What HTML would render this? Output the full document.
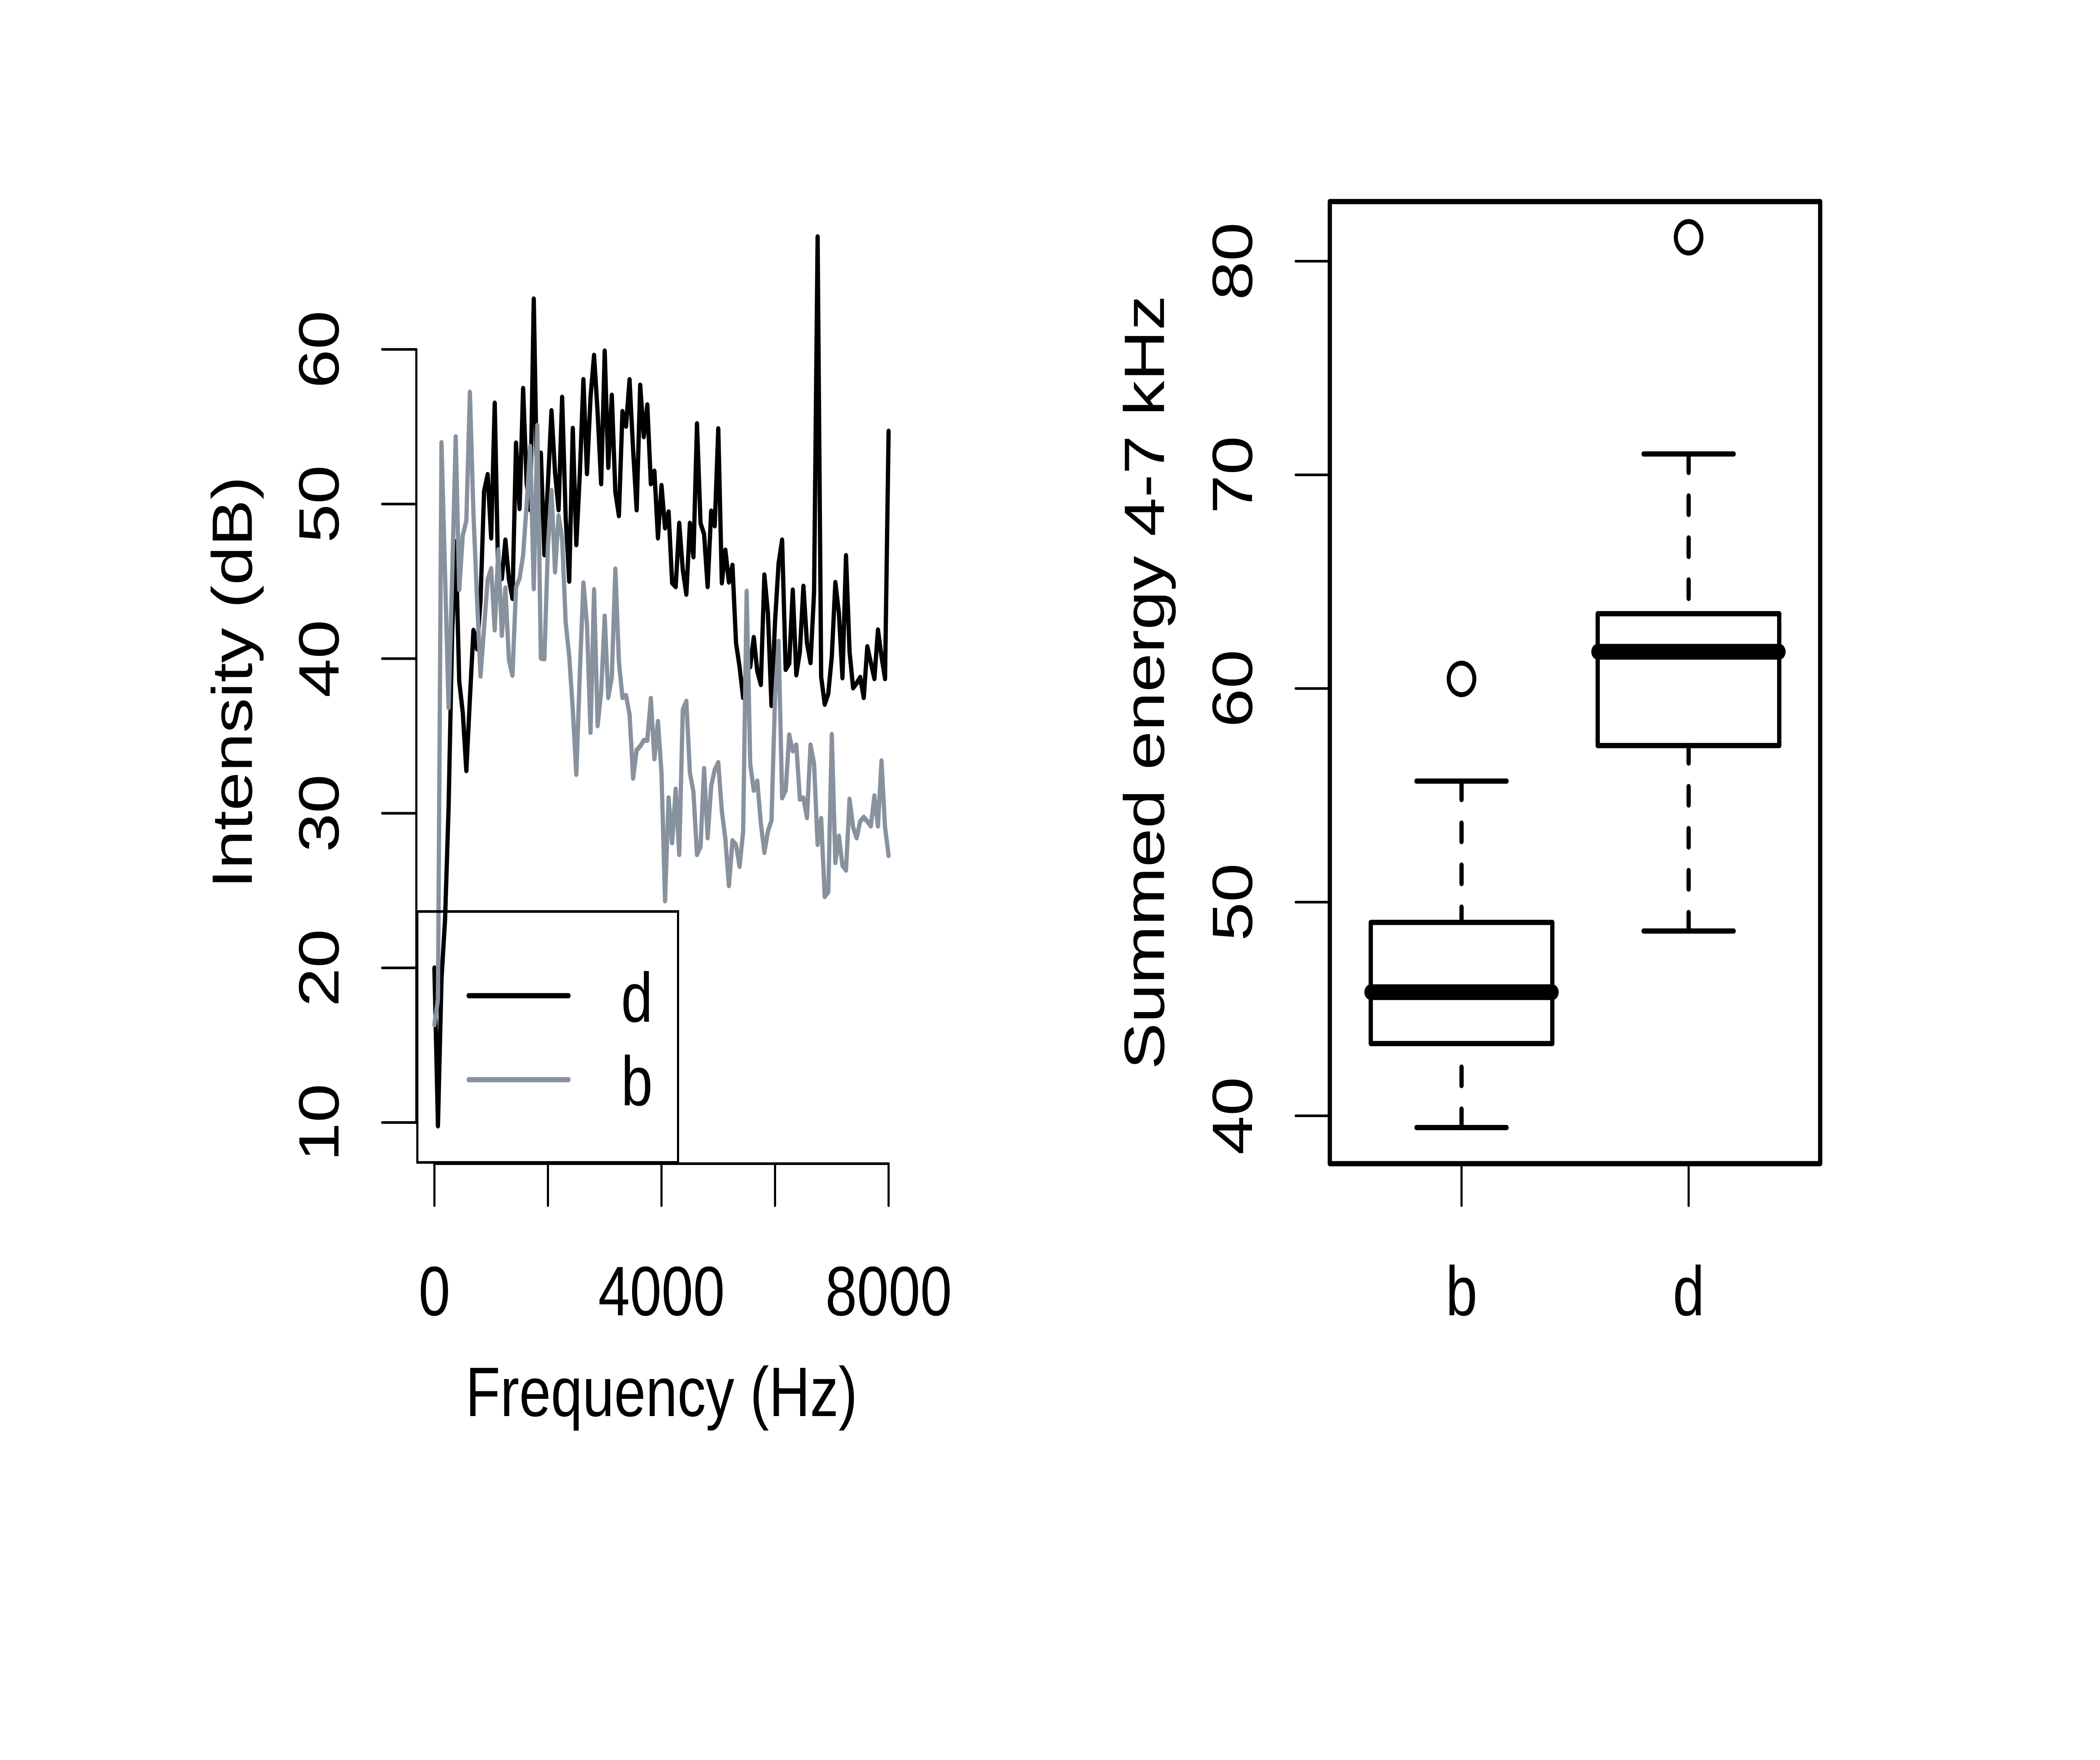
<!DOCTYPE html>
<html>
<head>
<meta charset="utf-8">
<style>
  html, body { margin: 0; padding: 0; background: #ffffff; overflow: hidden; width: 100%; height: 100%; }
  svg { display: block; position: absolute; left: 0; top: 0; width: 100vw; height: 100vh; }
  text { font-family: "Liberation Sans", Arial, sans-serif; font-size: 166.7px; fill: #000; }
</style>
</head>
<body>
<svg xmlns="http://www.w3.org/2000/svg" viewBox="0 0 6154 4191" preserveAspectRatio="none">
  <rect x="0" y="0" width="6154" height="4191" fill="#ffffff"/>

  <!-- ================= LEFT PANEL ================= -->
  <!-- series d (black) -->
  <polyline fill="none" stroke="#000000" stroke-width="12.5" stroke-linejoin="round" stroke-linecap="round"
    points="1273.0,2305 1283.4,2681 1293.8,2331 1304.2,2190 1314.6,1922 1325.0,1508 1335.4,1290 1345.8,1623 1356.2,1697 1366.6,1835 1377.0,1664 1387.4,1501 1397.8,1545 1408.2,1430 1418.6,1170 1429.0,1130 1439.4,1281 1449.8,960 1460.2,1380 1470.6,1378 1481.0,1286 1491.4,1380 1501.8,1425 1512.2,1055 1522.6,1211 1533.0,925 1543.4,1152 1553.8,1214 1564.2,712 1574.6,1196 1585.0,1079 1595.3,1321 1605.7,1152 1616.1,978 1626.5,1125 1636.9,1214 1647.3,946 1657.7,1232 1668.1,1384 1678.5,1020 1688.9,1297 1699.3,1125 1709.7,904 1720.1,1128 1730.5,946 1740.9,846 1751.3,982 1761.7,1152 1772.1,836 1782.5,1113 1792.9,941 1803.3,1172 1813.7,1228 1824.1,980 1834.5,1015 1844.9,904 1855.3,1071 1865.7,1214 1876.1,917 1886.5,1040 1896.9,964 1907.3,1152 1917.7,1122 1928.1,1281 1938.5,1156 1948.9,1257 1959.3,1219 1969.7,1388 1980.1,1397 1990.5,1246 2000.9,1357 2011.3,1415 2021.7,1246 2032.1,1326 2042.5,1009 2052.9,1246 2063.3,1272 2073.7,1397 2084.1,1217 2094.5,1252 2104.9,1021 2115.3,1388 2125.7,1310 2136.1,1386 2146.5,1346 2156.9,1531 2167.3,1588 2177.7,1661 2188.1,1585 2198.5,1588 2208.9,1518 2219.2,1598 2229.6,1630 2240.0,1369 2250.4,1460 2260.8,1680 2271.2,1480 2281.6,1342 2292.0,1286 2302.4,1594 2312.8,1580 2323.2,1405 2333.6,1607 2344.0,1552 2354.4,1396 2364.8,1531 2375.2,1578 2385.6,1411 2396.0,564 2406.4,1612 2416.8,1677 2427.2,1652 2437.6,1563 2448.0,1387 2458.4,1460 2468.8,1614 2479.2,1323 2489.6,1552 2500.0,1638 2510.4,1627 2520.8,1613 2531.2,1661 2541.6,1540 2552.0,1578 2562.4,1616 2572.8,1500 2583.2,1563 2593.6,1616 2604.0,1027"/>

  <!-- series b (grey) -->
  <polyline fill="none" stroke="#88929e" stroke-width="12.5" stroke-linejoin="round" stroke-linecap="round"
    points="1273.0,2440 1283.4,2380 1293.8,1054 1304.2,1368 1314.6,1685 1325.0,1374 1335.4,1040 1345.8,1404 1356.2,1275 1366.6,1240 1377.0,934 1387.4,1222 1397.8,1425 1408.2,1610 1418.6,1495 1429.0,1380 1439.4,1354 1449.8,1500 1460.2,1309 1470.6,1513 1481.0,1400 1491.4,1572 1501.8,1608 1512.2,1398 1522.6,1377 1533.0,1322 1543.4,1200 1553.8,1063 1564.2,1402 1574.6,1013 1585.0,1567 1595.3,1569 1605.7,1300 1616.1,1168 1626.5,1362 1636.9,1228 1647.3,1281 1657.7,1482 1668.1,1563 1678.5,1688 1688.9,1844 1699.3,1600 1709.7,1388 1720.1,1487 1730.5,1744 1740.9,1404 1751.3,1728 1761.7,1647 1772.1,1467 1782.5,1661 1792.9,1612 1803.3,1355 1813.7,1576 1824.1,1661 1834.5,1656 1844.9,1701 1855.3,1853 1865.7,1786 1876.1,1777 1886.5,1763 1896.9,1763 1907.3,1663 1917.7,1807 1928.1,1718 1938.5,1840 1948.9,2145 1959.3,1900 1969.7,2007 1980.1,1879 1990.5,2035 2000.9,1690 2011.3,1670 2021.7,1840 2032.1,1886 2042.5,2035 2052.9,2016 2063.3,1830 2073.7,1995 2084.1,1872 2094.5,1833 2104.9,1816 2115.3,1931 2125.7,1998 2136.1,2109 2146.5,2002 2156.9,2012 2167.3,2063 2177.7,1981 2188.1,1408 2198.5,1819 2208.9,1882 2219.2,1860 2229.6,1960 2240.0,2030 2250.4,1979 2260.8,1954 2271.2,1661 2281.6,1527 2292.0,1900 2302.4,1882 2312.8,1750 2323.2,1788 2333.6,1774 2344.0,1903 2354.4,1900 2364.8,1947 2375.2,1774 2385.6,1819 2396.0,2011 2406.4,1949 2416.8,2135 2427.2,2124 2437.6,1749 2448.0,2054 2458.4,1991 2468.8,2061 2479.2,2072 2489.6,1903 2500.0,1970 2510.4,1995 2520.8,1956 2531.2,1946 2541.6,1956 2552.0,1967 2562.4,1895 2572.8,1967 2583.2,1812 2593.6,1970 2604.0,2037"/>

  <!-- left y axis -->
  <g stroke="#000" stroke-width="6.25" stroke-linecap="round" fill="none">
    <line x1="1220" y1="832" x2="1220" y2="2673"/>
    <line x1="1120" y1="832" x2="1220" y2="832"/>
    <line x1="1120" y1="1200.2" x2="1220" y2="1200.2"/>
    <line x1="1120" y1="1568.4" x2="1220" y2="1568.4"/>
    <line x1="1120" y1="1936.6" x2="1220" y2="1936.6"/>
    <line x1="1120" y1="2304.8" x2="1220" y2="2304.8"/>
    <line x1="1120" y1="2673" x2="1220" y2="2673"/>
    <!-- x axis -->
    <line x1="1273" y1="2771" x2="2604" y2="2771"/>
    <line x1="1273" y1="2771" x2="1273" y2="2871"/>
    <line x1="1605.75" y1="2771" x2="1605.75" y2="2871"/>
    <line x1="1938.5" y1="2771" x2="1938.5" y2="2871"/>
    <line x1="2271.25" y1="2771" x2="2271.25" y2="2871"/>
    <line x1="2604" y1="2771" x2="2604" y2="2871"/>
  </g>

  <!-- left y tick labels -->
  <g text-anchor="middle">
    <text transform="translate(992,2673) rotate(-90)">10</text>
    <text transform="translate(992,2304.8) rotate(-90)">20</text>
    <text transform="translate(992,1936.6) rotate(-90)">30</text>
    <text transform="translate(992,1568.4) rotate(-90)">40</text>
    <text transform="translate(992,1200.2) rotate(-90)">50</text>
    <text transform="translate(992,832) rotate(-90)">60</text>
  </g>
  <!-- left x tick labels -->
  <g text-anchor="middle">
    <text x="1273" y="3132">0</text>
    <text x="1938.5" y="3132">4000</text>
    <text x="2604" y="3132">8000</text>
  </g>
  <!-- left titles -->
  <text x="1938.5" y="3372" text-anchor="middle">Frequency (Hz)</text>
  <text transform="translate(738,1625) rotate(-90)" text-anchor="middle">Intensity (dB)</text>

  <!-- legend -->
  <rect x="1223" y="2170.5" width="764" height="597.5" fill="none" stroke="#000" stroke-width="6.25"/>
  <line x1="1373.5" y1="2371" x2="1666" y2="2371" stroke="#000" stroke-width="12.5" stroke-linecap="round"/>
  <line x1="1373.5" y1="2571" x2="1666" y2="2571" stroke="#88929e" stroke-width="12.5" stroke-linecap="round"/>
  <text x="1820" y="2433">d</text>
  <text x="1820" y="2632">b</text>

  <!-- ================= RIGHT PANEL ================= -->
  <g stroke="#000" stroke-width="6.25" stroke-linecap="round" fill="none">
    <line x1="3897" y1="622" x2="3897" y2="2657"/>
    <line x1="3797" y1="622" x2="3897" y2="622"/>
    <line x1="3797" y1="1130.75" x2="3897" y2="1130.75"/>
    <line x1="3797" y1="1639.5" x2="3897" y2="1639.5"/>
    <line x1="3797" y1="2148.25" x2="3897" y2="2148.25"/>
    <line x1="3797" y1="2657" x2="3897" y2="2657"/>
    <line x1="4283" y1="2771" x2="4283" y2="2871"/>
    <line x1="4948.5" y1="2771" x2="4948.5" y2="2871"/>
  </g>
  <g text-anchor="middle">
    <text transform="translate(3669,2657) rotate(-90)">40</text>
    <text transform="translate(3669,2148.25) rotate(-90)">50</text>
    <text transform="translate(3669,1639.5) rotate(-90)">60</text>
    <text transform="translate(3669,1130.75) rotate(-90)">70</text>
    <text transform="translate(3669,622) rotate(-90)">80</text>
  </g>
  <text x="4283" y="3132" text-anchor="middle">b</text>
  <text x="4948.5" y="3132" text-anchor="middle">d</text>
  <text transform="translate(3411,1625) rotate(-90)" text-anchor="middle">Summed energy 4-7 kHz</text>

  <!-- whiskers (dashed) -->
  <g stroke="#000" stroke-width="12.5" stroke-linecap="round" stroke-dasharray="44 56" fill="none">
    <line x1="4283" y1="1860" x2="4283" y2="2196.5"/>
    <line x1="4283" y1="2685" x2="4283" y2="2485"/>
    <line x1="4948.5" y1="1081" x2="4948.5" y2="1461.4"/>
    <line x1="4948.5" y1="2217" x2="4948.5" y2="1775.4"/>
  </g>
  <!-- caps -->
  <g stroke="#000" stroke-width="12.5" stroke-linecap="round" fill="none">
    <line x1="4151" y1="1860" x2="4415" y2="1860"/>
    <line x1="4151" y1="2685" x2="4415" y2="2685"/>
    <line x1="4816.5" y1="1081" x2="5080.5" y2="1081"/>
    <line x1="4816.5" y1="2217" x2="5080.5" y2="2217"/>
  </g>
  <!-- boxes -->
  <g stroke="#000" stroke-width="12.5" stroke-linejoin="round" fill="none">
    <rect x="4017" y="2196.5" width="532" height="288.5"/>
    <rect x="4682" y="1461.4" width="532" height="314"/>
  </g>
  <!-- medians -->
  <g stroke="#000" stroke-width="37.5" stroke-linecap="round">
    <line x1="4017" y1="2362.6" x2="4549" y2="2362.6"/>
    <line x1="4682" y1="1552" x2="5214" y2="1552"/>
  </g>
  <!-- outliers -->
  <g stroke="#000" stroke-width="11.8" fill="none">
    <circle cx="4283" cy="1616.6" r="37.5"/>
    <circle cx="4948.5" cy="565" r="37.5"/>
  </g>
  <!-- plot frame -->
  <rect x="3897" y="480" width="1437" height="2291" fill="none" stroke="#000" stroke-width="12.5" stroke-linejoin="round"/>
</svg>
</body>
</html>
